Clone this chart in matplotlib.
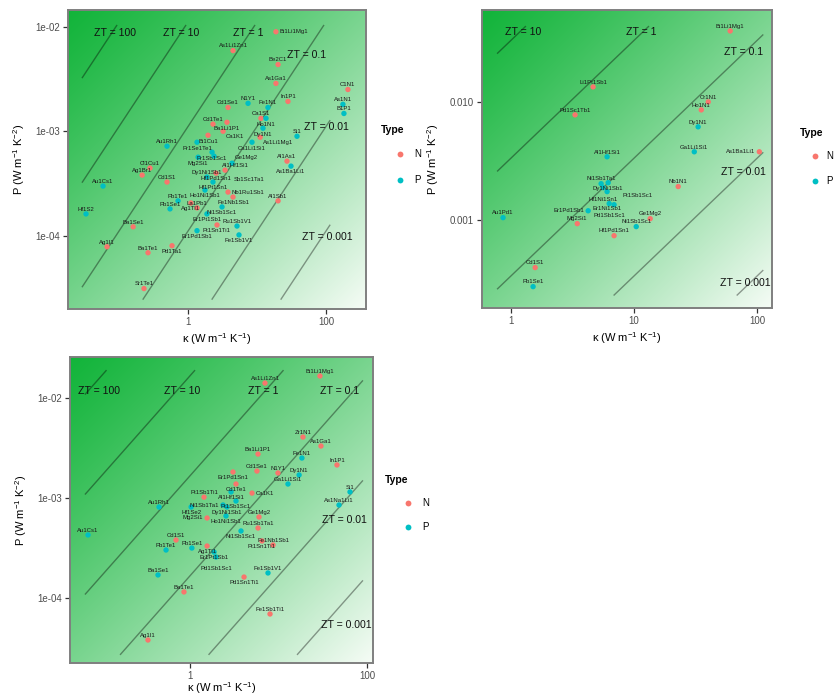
import numpy as np
import matplotlib
matplotlib.use('Agg')
import matplotlib.pyplot as plt
from matplotlib.lines import Line2D
from matplotlib.ticker import NullLocator
from matplotlib.colors import to_rgb

plt.rcParams['font.family'] = ['Liberation Sans', 'DejaVu Sans']
plt.rcParams['mathtext.fontset'] = 'custom'
plt.rcParams['mathtext.rm'] = 'Liberation Sans'
plt.rcParams['mathtext.it'] = 'Liberation Sans:italic'
plt.rcParams['mathtext.bf'] = 'Liberation Sans:bold'

ZT_LEVELS = [100, 10, 1, 0.1, 0.01, 0.001]
TYPE_COLORS = {'N': '#F8766D', 'P': '#00BFC4'}

# ---------------- Panel A (top-left) ----------------
a_names = ['Bi1Li1Mg1', 'As1Li1Zn1', 'Be2C1', 'As1Ga1', 'C1N1', 'In1P1', 'As1N1', 'B1P1',
           'Cd1Se1', 'N1Y1', 'Fe1N1', 'Ca1S1', 'Ho1N1', 'Dy1N1', 'Cd1Te1', 'Ba1Li1P1',
           'Bi1Cu1', 'Ca1K1', 'Ca1Li1Si1', 'As1Li1Mg1', 'Si1', 'Pr1Se1Te1', 'Au1Rh1',
           'Pr1Sb1Sc1', 'Mg2Si1', 'Al1Hf1Si1', 'Cl1Cu1', 'Ag1Br1', 'Au1Cs1', 'Cd1S1',
           'Dy1Ni1Sb1', 'Hf1Pd1Sn1', 'Hf1Pt1Sn1', 'Ho1Ni1Sb1', 'Nb1Ru1Sb1', 'Fe1Nb1Sb1',
           'Pb1Te1', 'Ag1Tl1', 'Pb1Se1', 'La1Pb1', 'Ni1Sb1Sc1', 'Er1Pt1Sb1', 'Hf1S2',
           'Ba1Se1', 'Pt1Sn1Ti1', 'Er1Pd1Sb1', 'Ag1I1', 'Pd1Ta1', 'Ba1Te1', 'Sr1Te1',
           'Al1As1', 'As1Ba1Li1', 'Al1Sb1', 'Ru1Sb1V1', 'Fe1Sb1V1', 'Ge1Mg2', 'Sb1Sc1Ta1']
a_kappa = [18.8, 4.49, 20.2, 18.8, 208, 28.1, 176, 182,
           3.80, 7.41, 14.4, 11.4, 13.5, 12.2, 2.30, 3.67,
           1.95, 3.22, 8.46, 11.1, 38.0, 1.35, 0.496,
           2.23, 1.40, 2.38, 0.281, 0.216, 0.0586, 0.496,
           1.88, 2.55, 2.30, 1.76, 3.80, 4.49,
           0.716, 1.10, 0.548, 1.35, 3.11, 1.88, 0.0332,
           0.160, 2.63, 1.35, 0.0670, 0.586, 0.263, 0.230,
           27.2, 31.1, 20.2, 5.13, 5.48, 4.34, 3.44]
a_power = [0.00895, 0.00591, 0.00435, 0.00287, 0.00251, 0.00193, 0.00181, 0.00148,
           0.00169, 0.00185, 0.00169, 0.00133, 0.00133, 0.00107, 0.00117, 0.00122,
           0.000916, 0.00100, 0.000786, 0.000877, 0.000896, 0.000786, 0.000720,
           0.000631, 0.000565, 0.000578, 0.000445, 0.000381, 0.000299, 0.000327,
           0.000365, 0.000398, 0.000327, 0.000274, 0.000262, 0.000235,
           0.000216, 0.000206, 0.000181, 0.000185, 0.000189, 0.000162, 0.000162,
           0.000122, 0.000127, 0.000112, 7.86e-5, 8.04e-5, 6.89e-5, 3.13e-5,
           0.000518, 0.000464, 0.000216, 0.000124, 0.000102, 0.000495, 0.000425]
a_type = ['N', 'N', 'N', 'N', 'N', 'N', 'P', 'P',
          'N', 'P', 'P', 'N', 'P', 'P', 'N', 'N',
          'N', 'N', 'P', 'N', 'P', 'P', 'P',
          'P', 'P', 'P', 'N', 'N', 'P', 'N',
          'P', 'N', 'P', 'P', 'N', 'N',
          'P', 'N', 'P', 'N', 'P', 'P', 'P',
          'N', 'N', 'P', 'N', 'N', 'N', 'N',
          'N', 'P', 'N', 'P', 'P', 'P', 'N']
a_temperature = 900

# ---------------- Panel B (top-right) ----------------
b_names = ['Bi1Li1Mg1', 'Li1Pt1Sb1', 'Cr1N1', 'Pd1Sc1Tb1', 'Ho1N1', 'Dy1N1', 'Ga1Li1Si1',
           'As1Ba1Li1', 'Al1Hf1Si1', 'Ni1Sb1Ta1', 'Dy1Ni1Sb1', 'Hf1Ni1Sn1', 'Er1Ni1Sb1',
           'Nb1N1', 'Pd1Sb1Sc1', 'Pt1Sb1Sc1', 'Er1Pd1Sb1', 'Au1Pd1', 'Ge1Mg2', 'Mg2Si1',
           'Ni1Sb1Sc1', 'Hf1Pd1Sn1', 'Cd1S1', 'Pb1Se1']
b_kappa = [60.3, 4.64, 40.0, 3.31, 35.1, 33.1, 30.8,
           104, 6.03, 5.39, 6.15, 5.60, 6.03,
           22.8, 6.27, 6.87, 4.23, 0.861, 13.5, 3.45,
           10.4, 6.87, 1.57, 1.51]
b_power = [0.0400, 0.0134, 0.0100, 0.00776, 0.00855, 0.00614, 0.00377,
           0.00377, 0.00342, 0.00202, 0.00206, 0.00187, 0.00173,
           0.00191, 0.00137, 0.00134, 0.00119, 0.00104, 0.00102, 0.000925,
           0.000873, 0.000731, 0.000392, 0.000270]
b_type = ['N', 'N', 'N', 'N', 'N', 'P', 'P',
          'N', 'P', 'P', 'P', 'P', 'P',
          'N', 'P', 'P', 'P', 'P', 'N', 'N',
          'P', 'N', 'N', 'P']
b_temperature = 300

# ---------------- Panel C (bottom-left) ----------------
c_names = ['Bi1Li1Mg1', 'As1Li1Zn1', 'Zr1N1', 'As1Ga1', 'Ba1Li1P1', 'Fe1N1', 'In1P1',
           'Cd1Se1', 'Er1Pd1Sn1', 'N1Y1', 'Dy1N1', 'Ga1Li1Si1', 'Cd1Te1', 'Si1',
           'Al1Hf1Si1', 'Ca1K1', 'Pt1Sb1Ti1', 'Pt1Sb1Sc1', 'As1Na1Li1', 'Ni1Sb1Ta1',
           'Au1Rh1', 'Hf1Se2', 'Dy1Ni1Sb1', 'Ho1Ni1Sb1', 'Ge1Mg2', 'Mg2Si1', 'Ru1Sb1Ta1',
           'Ni1Sb1Sc1', 'Au1Cs1', 'Cd1S1', 'Pt1Sn1Ti1', 'Fe1Nb1Sb1', 'Pb1Se1', 'Ag1Tl1',
           'Pb1Te1', 'Er1Pt1Sb1', 'Pd1Sb1Sc1', 'Fe1Sb1V1', 'Ba1Se1', 'Pd1Sn1Ti1',
           'Ba1Te1', 'Fe1Sb1Ti1', 'Ag1I1']
c_kappa = [29.4, 7.04, 18.9, 30.2, 5.87, 18.4, 45.8,
           5.71, 3.06, 9.87, 17.1, 12.8, 3.31, 64.3,
           2.91, 5.02, 1.44, 3.31, 48.3, 2.36,
           0.447, 1.03, 2.62, 2.55, 6.02, 1.56, 5.87,
           3.77, 0.0704, 0.695, 6.51, 8.67, 1.05, 1.56,
           0.536, 1.87, 1.97, 7.61, 0.435, 4.08,
           0.855, 8.02, 0.335]
c_power = [0.0166, 0.0141, 0.00407, 0.00331, 0.00275, 0.00251, 0.00214,
           0.00186, 0.00182, 0.00178, 0.00170, 0.00138, 0.00138, 0.00115,
           0.00115, 0.00112, 0.00102, 0.000933, 0.000851, 0.000851,
           0.000813, 0.000813, 0.000813, 0.000661, 0.000646, 0.000631, 0.000501,
           0.000468, 0.000427, 0.000380, 0.000372, 0.000339, 0.000316, 0.000331,
           0.000302, 0.000288, 0.000257, 0.000178, 0.000170, 0.000162,
           0.000115, 6.92e-5, 3.80e-5]
c_type = ['N', 'N', 'N', 'N', 'N', 'P', 'N',
          'N', 'N', 'N', 'P', 'P', 'N', 'P',
          'P', 'N', 'N', 'P', 'P', 'P',
          'P', 'P', 'P', 'P', 'N', 'N', 'N',
          'P', 'P', 'N', 'N', 'N', 'P', 'N',
          'P', 'P', 'P', 'P', 'P', 'N',
          'N', 'N', 'N']
c_temperature = 600

# ---------------- Layout / styling per panel ----------------
W, H = 835, 697
panels = [
    dict(names=a_names, kappa=a_kappa, power=a_power, types=a_type, T=a_temperature,
         box=(68, 10, 366, 309),
         xlim=(10**-1.74, 10**2.58), ylim=(10**-4.70, 10**-1.84),
         line_k=(0.029, 115), line_p=(2.45e-5, 0.0104),
         zt_labels=[(100, 0.087, 0.00876), (10, 0.79, 0.00876), (1, 7.4, 0.00876),
                    (0.1, 52.8, 0.0054), (0.01, 103, 0.00109), (0.001, 103, 9.8e-5)],
         xticks=[1, 100], xticklabels=['1', '100'],
         yticks=[1e-4, 1e-3, 1e-2], yticklabels=['1e-04', '1e-03', '1e-02'],
         legend=(393, 130, 400, 154, 180, 414), xpad=3),
    dict(names=b_names, kappa=b_kappa, power=b_power, types=b_type, T=b_temperature,
         box=(482, 10, 772, 308),
         xlim=(10**-0.236, 10**2.12), ylim=(10**-3.75, 10**-1.22),
         line_k=(0.77, 112), line_p=(2.27e-4, 0.044),
         zt_labels=[(10, 1.25, 0.0392), (1, 11.4, 0.0392), (0.1, 78, 0.0265),
                    (0.01, 77, 0.00255), (0.001, 80, 2.92e-4)],
         xticks=[1, 10, 100], xticklabels=['1', '10', '100'],
         yticks=[1e-3, 1e-2], yticklabels=['0.001', '0.010'],
         legend=(812, 133, 815, 156, 181, 826), xpad=3),
    dict(names=c_names, kappa=c_kappa, power=c_power, types=c_type, T=c_temperature,
         box=(70, 357, 373, 663),
         xlim=(10**-1.356, 10**2.068), ylim=(10**-4.65, 10**-1.59),
         line_k=(0.065, 90), line_p=(2.7e-5, 0.019),
         zt_labels=[(100, 0.094, 0.0117), (10, 0.81, 0.0117), (1, 6.7, 0.0117),
                    (0.1, 49.4, 0.0117), (0.01, 55, 6.0e-4), (0.001, 59, 5.4e-5)],
         xticks=[1, 100], xticklabels=['1', '100'],
         yticks=[1e-4, 1e-3, 1e-2], yticklabels=['1e-04', '1e-03', '1e-02'],
         legend=(397, 480, 408, 503, 527, 422), xpad=-0.5),
]

fig = plt.figure(figsize=(W / 100, H / 100), dpi=100)
fig.patch.set_facecolor('white')

# gradient image (axes-fraction diagonal, green top-left -> white bottom-right)
gx, gy = np.meshgrid(np.linspace(0, 1, 300), np.linspace(0, 1, 300))
tgrad = ((gx + gy) / 2.0) ** 1.15
c0 = np.array(to_rgb('#12B43A'))
c1 = np.array(to_rgb('#F6FCF6'))
grad_img = c0[None, None, :] + (c1 - c0)[None, None, :] * tgrad[:, :, None]


def rect(box):
    x0, y0, x1, y1 = box
    return [x0 / W, 1 - y1 / H, (x1 - x0) / W, (y1 - y0) / H]


renderer = fig.canvas.get_renderer()
CANDIDATES = [(0, 1.6, 'center', 'bottom'), (0, -2.4, 'center', 'top'),
              (2.6, 0, 'left', 'center'), (-2.6, 0, 'right', 'center'),
              (0, 5.5, 'center', 'bottom'), (0, -6.5, 'center', 'top'),
              (2.2, 2.2, 'left', 'bottom'), (-2.2, 2.2, 'right', 'bottom'),
              (2.2, -2.2, 'left', 'top'), (-2.2, -2.2, 'right', 'top'),
              (6, 5, 'left', 'bottom'), (-6, 5, 'right', 'bottom'),
              (6, -5, 'left', 'top'), (-6, -5, 'right', 'top'),
              (0, 9.5, 'center', 'bottom'), (0, -10.5, 'center', 'top')]


def overlaps(bb, others):
    for o in others:
        if bb.x0 < o.x1 and bb.x1 > o.x0 and bb.y0 < o.y1 and bb.y1 > o.y0:
            return True
    return False


for p in panels:
    r = rect(p['box'])
    axbg = fig.add_axes(r, zorder=0)
    axbg.imshow(grad_img, extent=(0, 1, 0, 1), origin='upper', aspect='auto',
                interpolation='bilinear')
    axbg.set_axis_off()

    ax = fig.add_axes(r, zorder=1)
    ax.patch.set_alpha(0)
    ax.set_xscale('log')
    ax.set_yscale('log')
    ax.set_xlim(*p['xlim'])
    ax.set_ylim(*p['ylim'])

    T = p['T']
    klo, khi = p['line_k']
    plo, phi = p['line_p']
    for z in ZT_LEVELS:
        k_a = max(klo, plo * T / z)
        k_b = min(khi, phi * T / z)
        if k_b <= k_a:
            continue
        ks = np.array([k_a, k_b])
        ax.plot(ks, z * ks / T, color='black', alpha=0.38, lw=1.0, zorder=2,
                solid_capstyle='butt')

    placed = []
    for z, kx, py in p['zt_labels']:
        lab = 'ZT = %g' % z
        t = ax.text(kx, py, lab, ha='center', va='center', fontsize=7.6,
                    color='#111111', zorder=5)
        placed.append(t.get_window_extent(renderer))

    kap = np.array(p['kappa'])
    pw = np.array(p['power'])
    cols = [TYPE_COLORS[t] for t in p['types']]
    ax.scatter(kap, pw, s=15, c=cols, linewidths=0, zorder=3)

    # simple greedy label placement (similar to a repel layout)
    ax_bb = ax.get_window_extent(renderer)
    for nm, kx, py in zip(p['names'], kap, pw):
        ann = ax.annotate(nm, (kx, py), xytext=(0, 1.6), textcoords='offset points',
                          ha='center', va='bottom', fontsize=4.3, color='#1a1a1a',
                          zorder=4)
        chosen = None
        for dx, dy, ha, va in CANDIDATES:
            ann.set_position((dx, dy))
            ann.set_ha(ha)
            ann.set_va(va)
            bb = ann.get_window_extent(renderer)
            if bb.x0 < ax_bb.x0 or bb.x1 > ax_bb.x1 or bb.y0 < ax_bb.y0 or bb.y1 > ax_bb.y1:
                continue
            if not overlaps(bb, placed):
                chosen = bb
                break
        if chosen is None:
            ann.set_position((0, 1.6))
            ann.set_ha('center')
            ann.set_va('bottom')
            chosen = ann.get_window_extent(renderer)
        placed.append(chosen)

    ax.xaxis.set_minor_locator(NullLocator())
    ax.yaxis.set_minor_locator(NullLocator())
    ax.set_xticks(p['xticks'])
    ax.set_xticklabels(p['xticklabels'])
    ax.set_yticks(p['yticks'])
    ax.set_yticklabels(p['yticklabels'])
    ax.xaxis.set_minor_locator(NullLocator())
    ax.yaxis.set_minor_locator(NullLocator())
    ax.tick_params(axis='both', which='major', length=3.5, width=0.9, color='#333333',
                   labelsize=7, labelcolor='#4D4D4D', pad=2.5)
    for sp in ax.spines.values():
        sp.set_color('#7F7F7F')
        sp.set_linewidth(1.4)

    ax.set_xlabel(r'κ (W m$^{-1}$ K$^{-1}$)', fontsize=8, labelpad=p['xpad'])
    ax.set_ylabel(r'P (W m$^{-1}$ K$^{-2}$)', fontsize=8, labelpad=6)

    # legend (drawn manually in figure pixels)
    tx, ty, mx, ny, py_, lx = p['legend']
    fig.text(tx / W, 1 - ty / H, 'Type', ha='center', va='center', fontsize=7.5,
             fontweight='bold')
    for lab, yy in (('N', ny), ('P', py_)):
        fig.add_artist(Line2D([mx / W], [1 - yy / H], marker='o', ls='none',
                              markersize=4.2, markeredgewidth=0,
                              color=TYPE_COLORS[lab], transform=fig.transFigure))
        fig.text(lx / W, 1 - yy / H, lab, ha='left', va='center', fontsize=7)

fig.savefig('out.png', dpi=100, facecolor='white')
